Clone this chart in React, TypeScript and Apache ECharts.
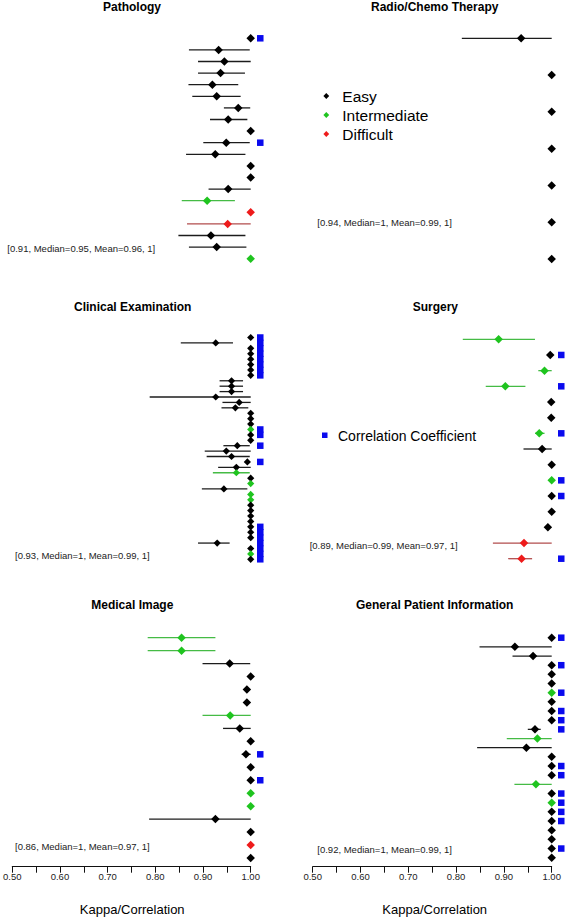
import { useEffect, useRef } from "react";
import * as echarts from "echarts";

// ---------- texts ----------
const panelTitles = [
  "Pathology",
  "Radio/Chemo Therapy",
  "Clinical Examination",
  "Surgery",
  "Medical Image",
  "General Patient Information",
];
const panelSummaries = [
  "[0.91, Median=0.95, Mean=0.96, 1]",
  "[0.94, Median=1, Mean=0.99, 1]",
  "[0.93, Median=1, Mean=0.99, 1]",
  "[0.89, Median=0.99, Mean=0.97, 1]",
  "[0.86, Median=1, Mean=0.97, 1]",
  "[0.92, Median=1, Mean=0.99, 1]",
];
const levelNames = ["Easy", "Intermediate", "Difficult"];
const correlationLabel = "Correlation Coefficient";
const axisTitle = "Kappa/Correlation";
const xTickLabels = ["0.50", "0.60", "0.70", "0.80", "0.90", "1.00"];

// ---------- Pathology ----------
const pathologyKappa = [1.0, 0.933, 0.945, 0.937, 0.92, 0.929, 0.974, 0.953, 1.0, 0.949, 0.926, 1.0, 1.0, 0.953, 0.909, 1.0, 0.952, 0.917, 0.929, 1.0];
const pathologyLower = [null, 0.871, 0.89, 0.89, 0.87, 0.878, 0.944, 0.915, null, 0.901, 0.865, null, null, 0.912, 0.856, null, 0.867, 0.849, 0.871, null];
const pathologyUpper = [null, 0.998, 1.0, 0.988, 0.974, 0.979, 0.999, 0.993, null, 0.998, 0.989, null, null, 1.0, 0.967, null, 1.0, 0.989, 0.991, null];
const pathologyLevel = ["E", "E", "E", "E", "E", "E", "E", "E", "E", "E", "E", "E", "E", "E", "I", "D", "D", "E", "E", "I"];
const pathologyCorrRows = [1, 10];

// ---------- Radio/Chemo Therapy ----------
const radioKappa = [0.936, 1.0, 1.0, 1.0, 1.0, 1.0, 1.0];
const radioLower = [0.812, null, null, null, null, null, null];
const radioUpper = [1.0, null, null, null, null, null, null];
const radioLevel = ["E", "E", "E", "E", "E", "E", "E"];
const radioCorrRows: number[] = [];

// ---------- Clinical Examination ----------
const clinicalKappa = [
  1.0, 0.927, 1.0, 1.0, 1.0, 1.0, 1.0, 1.0, 0.96, 0.96,
  0.96, 0.927, 0.976, 0.968, 1.0, 1.0, 1.0, 1.0, 1.0, 1.0,
  0.972, 0.949, 0.96, 0.993, 0.97, 0.97, 1.0, 1.0, 0.944, 1.0,
  1.0, 1.0, 1.0, 1.0, 1.0, 1.0, 1.0, 1.0, 0.93, 1.0,
  1.0, 1.0,
];
const clinicalLower = [
  null, 0.854, null, null, null, null, null, null, 0.935, 0.935,
  0.935, 0.789, 0.941, 0.939, null, null, null, null, null, null,
  0.943, 0.904, 0.908, null, 0.932, 0.921, null, null, 0.898, null,
  null, null, null, null, null, null, null, null, 0.89, null,
  null, null,
];
const clinicalUpper = [
  null, 0.963, null, null, null, null, null, null, 0.984, 0.984,
  0.984, 1.0, 1.0, 0.995, null, null, null, null, null, null,
  0.998, 1.0, 0.998, null, 1.0, 0.998, null, null, 0.993, null,
  null, null, null, null, null, null, null, null, 0.956, null,
  null, null,
];
const clinicalLevel = [
  "E", "E", "E", "E", "E", "E", "E", "E", "E", "E",
  "E", "E", "E", "E", "E", "E", "E", "I", "E", "E",
  "E", "E", "E", "E", "E", "I", "E", "I", "E", "I",
  "I", "E", "E", "E", "E", "E", "E", "E", "E", "E",
  "I", "E",
];
const clinicalCorrRows = [1, 2, 3, 4, 5, 6, 7, 8, 18, 19, 21, 24, 36, 37, 38, 39, 40, 41, 42];

// ---------- Surgery ----------
const surgeryKappa = [0.889, 0.997, 0.985, 0.903, 0.999, 0.999, 0.974, 0.98, 1.0, 1.0, 1.0, 1.0, 0.992, 0.942, 0.937];
const surgeryLower = [0.814, null, 0.972, 0.862, null, null, 0.965, 0.941, null, null, null, null, null, 0.877, 0.909];
const surgeryUpper = [0.965, null, 1.0, 0.945, null, null, 0.985, 1.0, null, null, null, null, null, 1.0, 0.959];
const surgeryLevel = ["I", "E", "I", "I", "E", "E", "I", "E", "E", "I", "E", "E", "E", "D", "D"];
const surgeryCorrRows = [2, 4, 7, 10, 11, 15];

// ---------- Medical Image ----------
const medicalKappa = [0.855, 0.855, 0.956, 1.0, 0.992, 0.992, 0.957, 0.977, 1.0, 0.99, 1.0, 1.0, 1.0, 1.0, 0.926, 1.0, 1.0, 1.0];
const medicalLower = [0.784, 0.784, 0.899, null, null, null, 0.899, 0.942, null, 0.981, null, null, null, null, 0.787, null, null, null];
const medicalUpper = [0.926, 0.926, 0.999, null, null, null, 1.0, 1.0, null, 1.0, null, null, null, null, 1.0, null, null, null];
const medicalLevel = ["I", "I", "E", "E", "E", "E", "I", "E", "E", "E", "E", "E", "I", "I", "E", "E", "D", "E"];
const medicalCorrRows = [10, 12];

// ---------- General Patient Information ----------
const generalKappa = [1.0, 0.923, 0.961, 1.0, 1.0, 1.0, 1.0, 1.0, 1.0, 1.0, 0.965, 0.97, 0.947, 1.0, 1.0, 1.0, 0.967, 1.0, 1.0, 1.0, 1.0, 1.0, 1.0, 1.0, 1.0];
const generalLower = [null, 0.849, 0.918, null, null, null, null, null, null, null, 0.95, 0.906, 0.844, null, null, null, 0.922, null, null, null, null, null, null, null, null];
const generalUpper = [null, 1.0, 1.0, null, null, null, null, null, null, null, 0.977, 1.0, 1.0, null, null, null, 1.0, null, null, null, null, null, null, null, null];
const generalLevel = ["E", "E", "E", "E", "E", "E", "I", "E", "E", "E", "E", "I", "E", "E", "E", "E", "I", "E", "I", "E", "E", "E", "E", "E", "E"];
const generalCorrRows = [1, 4, 7, 9, 10, 11, 15, 16, 18, 19, 20, 21, 24];

// ---------- styling / layout ----------
const FONT = "'Liberation Sans', Arial, Helvetica, sans-serif";
const LEVEL_COLOR: Record<string, string> = { E: "#000000", I: "#1fc41f", D: "#ee1b1b" };
const CI_COLOR: Record<string, string> = { E: "#1c1c1c", I: "#45bb45", D: "#b24c4c" };
const CORR_COLOR = "#0a0aee";
const CORR_X = 1.02;

type Panel = {
  est: number[];
  lo: (number | null)[];
  hi: (number | null)[];
  lvl: string[];
  corr: number[];
};

const panels: Panel[] = [
  { est: pathologyKappa, lo: pathologyLower, hi: pathologyUpper, lvl: pathologyLevel, corr: pathologyCorrRows },
  { est: radioKappa, lo: radioLower, hi: radioUpper, lvl: radioLevel, corr: radioCorrRows },
  { est: clinicalKappa, lo: clinicalLower, hi: clinicalUpper, lvl: clinicalLevel, corr: clinicalCorrRows },
  { est: surgeryKappa, lo: surgeryLower, hi: surgeryUpper, lvl: surgeryLevel, corr: surgeryCorrRows },
  { est: medicalKappa, lo: medicalLower, hi: medicalUpper, lvl: medicalLevel, corr: medicalCorrRows },
  { est: generalKappa, lo: generalLower, hi: generalUpper, lvl: generalLevel, corr: generalCorrRows },
];

const LEFT_X = 11.3;
const LEFT_W = 239.4;
const RIGHT_X = 312.7;
const RIGHT_W = 239;

const layouts = [
  { left: LEFT_X, width: LEFT_W, top: 38.3, height: 220.4, tx: 132, ty: 7, sx: 7.3, sy: 248.3, size: 8.5, off: 0 },
  { left: RIGHT_X, width: RIGHT_W, top: 38.3, height: 220.7, tx: 434.7, ty: 7, sx: 317.3, sy: 222.7, size: 8.5, off: 0 },
  { left: LEFT_X, width: LEFT_W, top: 337.5, height: 221.8, tx: 132.7, ty: 306.7, sx: 15, sy: 555, size: 7.2, off: 0 },
  { left: RIGHT_X, width: RIGHT_W, top: 339.3, height: 219.4, tx: 435.3, ty: 307.3, sx: 309.7, sy: 545, size: 8.5, off: 0 },
  { left: LEFT_X, width: LEFT_W, top: 637.7, height: 220.3, tx: 132.3, ty: 605, sx: 15, sy: 846.7, size: 8.5, off: 8.7 },
  { left: RIGHT_X, width: RIGHT_W, top: 637.7, height: 220, tx: 434.7, ty: 605, sx: 317.3, sy: 849, size: 8.5, off: 9 },
];

function diamond(cx: number, cy: number, r: number, fill: string) {
  return {
    type: "polygon",
    shape: { points: [[cx, cy - r], [cx + r, cy], [cx, cy + r], [cx - r, cy]] },
    style: { fill },
    silent: true,
  };
}

function text(x: number, y: number, t: string, size: number, opts: any = {}) {
  return {
    type: "text",
    x,
    y,
    silent: true,
    style: {
      text: t,
      fontSize: size,
      fontFamily: FONT,
      fontWeight: opts.bold ? "bold" : "normal",
      fill: opts.color || "#000",
      align: opts.align || "left",
      verticalAlign: "middle",
    },
  };
}

function buildOption() {
  const grid = layouts.map((l) => ({ left: l.left, top: l.top, width: l.width, height: l.height }));
  const xAxis = layouts.map((l, i) => ({
    gridIndex: i,
    type: "value",
    min: 0.5,
    max: 1.0,
    interval: 0.05,
    show: i >= 4,
    offset: l.off,
    axisLine: { show: true, onZero: false, lineStyle: { color: "#111", width: 1 } },
    axisTick: { show: true, length: 6, lineStyle: { color: "#111", width: 1 } },
    axisLabel: {
      show: true,
      margin: 5,
      fontSize: 9.5,
      fontFamily: FONT,
      color: "#222",
      showMinLabel: true,
      showMaxLabel: true,
      formatter: (v: number) => {
        const k = Math.round(v * 100);
        return k % 10 === 0 ? xTickLabels[(k - 50) / 10] || "" : "";
      },
    },
    splitLine: { show: false },
  }));
  const yAxis = panels.map((p, i) => ({
    gridIndex: i,
    type: "value",
    min: 1,
    max: p.est.length,
    inverse: true,
    show: false,
  }));

  const series: any[] = [];
  panels.forEach((p, i) => {
    const ci: number[][] = [];
    const ciLvl: string[] = [];
    p.est.forEach((_, k) => {
      const lo = p.lo[k];
      const hi = p.hi[k];
      if (lo != null && hi != null) {
        ci.push([lo, hi, k + 1]);
        ciLvl.push(p.lvl[k]);
      }
    });
    if (ci.length) {
      series.push({
        type: "custom",
        xAxisIndex: i,
        yAxisIndex: i,
        silent: true,
        z: 1,
        clip: false,
        encode: { x: [0, 1], y: 2 },
        data: ci,
        renderItem: (params: any, api: any) => {
          const a = api.coord([api.value(0), api.value(2)]);
          const b = api.coord([api.value(1), api.value(2)]);
          return {
            type: "line",
            shape: { x1: a[0], y1: a[1], x2: b[0], y2: b[1] },
            style: { stroke: CI_COLOR[ciLvl[params.dataIndex]], lineWidth: 1.3 },
          };
        },
      });
    }
    series.push({
      type: "scatter",
      xAxisIndex: i,
      yAxisIndex: i,
      symbol: "diamond",
      symbolSize: layouts[i].size,
      clip: false,
      silent: true,
      z: 3,
      data: p.est.map((v, k) => ({
        value: [v, k + 1],
        itemStyle: { color: LEVEL_COLOR[p.lvl[k]], opacity: 1 },
      })),
    });
    if (p.corr.length) {
      series.push({
        type: "scatter",
        xAxisIndex: i,
        yAxisIndex: i,
        symbol: "rect",
        symbolSize: 6.5,
        clip: false,
        silent: true,
        z: 2,
        itemStyle: { color: CORR_COLOR, opacity: 1 },
        data: p.corr.map((k) => [CORR_X, k]),
      });
    }
  });

  const graphic: any[] = [];
  layouts.forEach((l, i) => {
    graphic.push(text(l.tx, l.ty, panelTitles[i], 12, { bold: true, align: "center" }));
    graphic.push(text(l.sx, l.sy, panelSummaries[i], 9.5, { color: "#222" }));
  });
  // difficulty legend (Radio/Chemo panel)
  levelNames.forEach((name, j) => {
    const y = 96 + j * 19;
    graphic.push(diamond(326.3, y, 2.9, LEVEL_COLOR[["E", "I", "D"][j]]));
    graphic.push(text(342.3, y, name, 15.5));
  });
  // correlation legend (Surgery panel)
  graphic.push({
    type: "rect",
    shape: { x: 322, y: 432.5, width: 5.5, height: 5.5 },
    style: { fill: CORR_COLOR },
    silent: true,
  });
  graphic.push(text(338, 435.5, correlationLabel, 14));
  // axis titles
  graphic.push(text(132.2, 909.3, axisTitle, 13, { align: "center" }));
  graphic.push(text(434.7, 909.3, axisTitle, 13, { align: "center" }));

  return {
    animation: false,
    backgroundColor: "#ffffff",
    grid,
    xAxis,
    yAxis,
    series,
    graphic,
  };
}

export default function App() {
  const ref = useRef<HTMLDivElement>(null);
  useEffect(() => {
    if (!ref.current) return;
    const chart = echarts.init(ref.current, undefined, { renderer: "svg" });
    chart.setOption(buildOption() as any);
    return () => chart.dispose();
  }, []);
  return (
    <div
      ref={ref}
      style={{ position: "absolute", left: 0, top: 0, width: 567, height: 918, background: "#fff" }}
    />
  );
}
